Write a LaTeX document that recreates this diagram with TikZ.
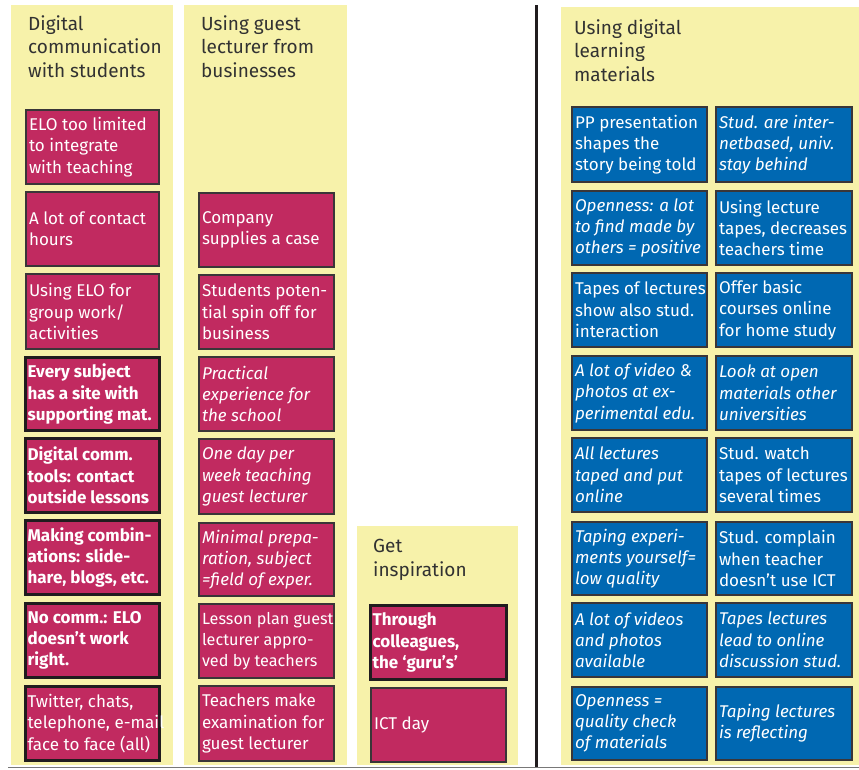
\documentclass[tikz,border=0pt]{standalone}
\usepackage{fontspec}
\setmainfont{Fira Sans}
\usetikzlibrary{fit}
\definecolor{yelc}{RGB}{247,242,170}
\definecolor{magc}{RGB}{193,42,96}
\definecolor{bluc}{RGB}{0,104,178}
\definecolor{bordc}{RGB}{58,54,56}
\definecolor{thickc}{RGB}{32,28,30}
\definecolor{titc}{RGB}{50,50,50}
\definecolor{linec}{RGB}{120,120,120}
\newcommand\mkcard[8]{%
  \coordinate (#1-a) at (#2,#3);
  \coordinate (#1-b) at (#4,#5);
  \node[#6, fit=(#1-a)(#1-b), inner sep=0pt] (#1) {};
  \node[#7, anchor=west] (#1-t) at ([xshift=3.5pt]#1.west) {#8};
}
\tikzset{
  panel/.style={fill=yelc, draw=none},
  mag/.style={fill=magc, draw=bordc, line width=1.3pt},
  magT/.style={fill=magc, draw=thickc, line width=3.2pt},
  blu/.style={fill=bluc, draw=bordc, line width=1.3pt},
  tn/.style={text=white, align=left, inner sep=0pt, font=\fontsize{17}{21.3}\selectfont},
  ti/.style={tn, font=\fontsize{17}{21.3}\selectfont\itshape},
  tb/.style={tn, font=\fontsize{17}{21.3}\selectfont\bfseries},
  tc/.style={tn, font=\fontsize{16.2}{21.3}\selectfont},
  ttl/.style={text=titc, align=left, inner sep=0pt, anchor=base west, font=\fontsize{19}{23.3}\selectfont},
}
\begin{document}
\begin{tikzpicture}[x=1pt,y=-1pt]
\useasboundingbox (0,0) rectangle (859,769);
% panels
\fill[panel] (11,5) rectangle (173,765);
\fill[panel] (184,5) rectangle (347,765);
\fill[panel] (357,526) rectangle (518,765);
\fill[panel] (561,7) rectangle (859,765);
% divider and base line
\coordinate (d1) at (536.5,5);
\coordinate (d2) at (536.5,767);
\draw[line width=3pt, thickc] (d1) -- (d2);
\coordinate (b1) at (8,767.5);
\coordinate (b2) at (859,767.5);
\draw[line width=1.5pt, linec] (b1) -- (b2);
% titles (anchored at the baseline of the last line)
\node[ttl] (t1) at (28,77) {Digital\\communication\\with students};
\node[ttl] (t2) at (201,77) {Using guest\\lecturer from\\businesses};
\node[ttl] (t3) at (373,576) {Get\\inspiration};
\node[ttl] (t4) at (574,81) {Using digital\\learning\\materials};
% column 1
\mkcard{a1}{26}{110}{159}{184}{mag}{tn}{ELO too limited\\to integrate\\with teaching}
\mkcard{a2}{26}{192}{159}{266}{mag}{tn}{A lot of contact\\hours}
\mkcard{a3}{26}{274}{159}{349}{mag}{tn}{Using ELO for\\group work/\\activities}
\mkcard{a4}{25.5}{357.5}{159.5}{430.5}{magT}{tb}{Every subject\\has a site with\\supporting mat.}
\mkcard{a5}{25.5}{438.5}{159.5}{512.5}{magT}{tb}{Digital comm.\\tools: contact\\outside lessons}
\mkcard{a6}{25.5}{520.5}{159.5}{594.5}{magT}{tb}{Making combin-\\ations: slide-\\hare, blogs, etc.}
\mkcard{a7}{25.5}{603.5}{159.5}{677.5}{magT}{tb}{No comm.: ELO\\doesn’t work\\right.}
\mkcard{a8}{25.5}{686.5}{159.5}{760.5}{magT}{tn}{Twitter, chats,\\telephone, e-mail\\face to face (all)}
% column 2
\mkcard{b1}{199}{193}{334}{267}{mag}{tn}{Company\\supplies a case}
\mkcard{b2}{199}{275}{334}{349}{mag}{tn}{Students poten-\\tial spin off for\\business}
\mkcard{b3}{199}{357}{334}{431}{mag}{ti}{Practical\\experience for\\the school}
\mkcard{b4}{199}{439}{334}{514}{mag}{ti}{One day per\\week teaching\\guest lecturer}
\mkcard{b5}{199}{523}{334}{596}{mag}{ti}{Minimal prepa-\\ration, subject\\=field of exper.}
\mkcard{b6}{199}{604}{334}{678}{mag}{tc}{Lesson plan guest\\lecturer appro-\\ved by teachers}
\mkcard{b7}{199}{686}{334}{761}{mag}{tn}{Teachers make\\examination for\\guest lecturer}
% column 3
\mkcard{c1}{370.5}{605.5}{506.5}{679.5}{magT}{tb}{Through\\colleagues,\\the ‘guru’s’}
\mkcard{c2}{371}{688}{506}{762}{mag}{tn}{ICT day}
% column 4 left
\mkcard{d1}{572}{107}{707}{182}{blu}{tn}{PP presentation\\shapes the\\story being told}
\mkcard{d2}{572}{191}{707}{265}{blu}{ti}{Openness: a lot\\to find made by\\others = positive}
\mkcard{d3}{572}{273}{707}{347}{blu}{tn}{Tapes of lectures\\show also stud.\\interaction}
\mkcard{d4}{572}{356}{707}{430}{blu}{ti}{A lot of video \&\\photos at ex-\\perimental edu.}
\mkcard{d5}{572}{438}{707}{512}{blu}{ti}{All lectures\\taped and put\\online}
\mkcard{d6}{572}{522}{707}{595}{blu}{ti}{Taping experi-\\ments yourself=\\low quality}
\mkcard{d7}{572}{603}{707}{677}{blu}{ti}{A lot of videos\\and photos\\available}
\mkcard{d8}{572}{687}{707}{760}{blu}{ti}{Openness =\\quality check\\of materials}
% column 4 right
\mkcard{e1}{716}{107}{852}{182}{blu}{ti}{Stud. are inter-\\netbased, univ.\\stay behind}
\mkcard{e2}{716}{191}{852}{265}{blu}{tn}{Using lecture\\tapes, decreases\\teachers time}
\mkcard{e3}{716}{273}{852}{347}{blu}{tn}{Offer basic\\courses online\\for home study}
\mkcard{e4}{716}{356}{852}{430}{blu}{ti}{Look at open\\materials other\\universities}
\mkcard{e5}{716}{438}{852}{512}{blu}{tn}{Stud. watch\\tapes of lectures\\several times}
\mkcard{e6}{716}{522}{852}{595}{blu}{tn}{Stud. complain\\when teacher\\doesn’t use ICT}
\mkcard{e7}{716}{603}{852}{677}{blu}{ti}{Tapes lectures\\lead to online\\discussion stud.}
\mkcard{e8}{716}{687}{852}{760}{blu}{ti}{Taping lectures\\is reflecting}
\end{tikzpicture}
\end{document}
